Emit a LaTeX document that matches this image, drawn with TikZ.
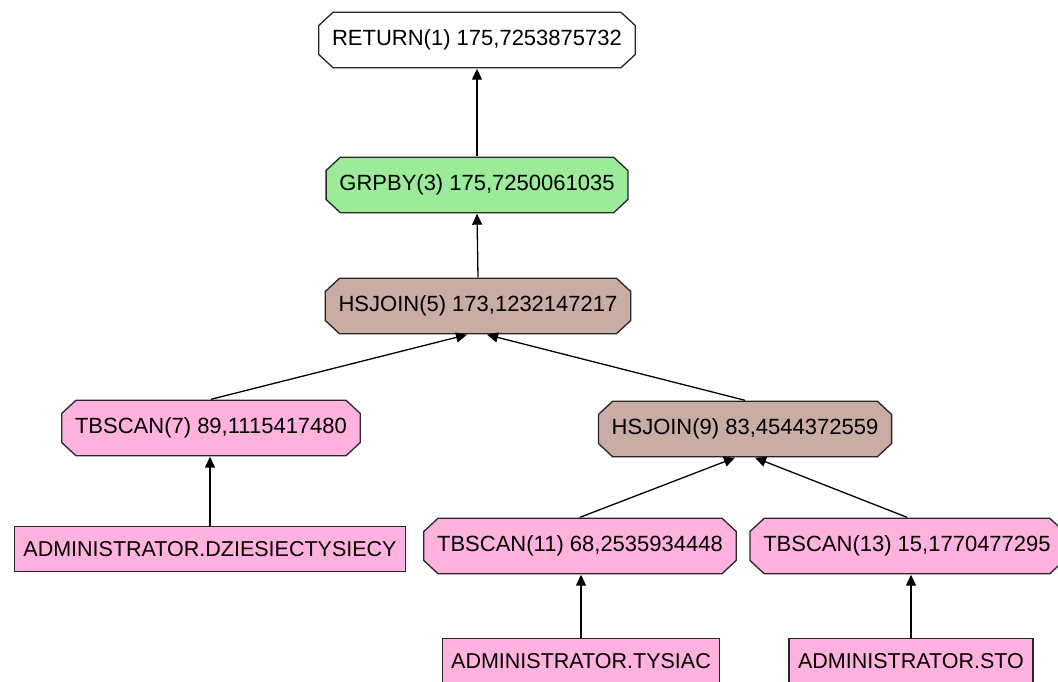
\documentclass[tikz,border=0pt]{standalone}
\usepackage{fontspec}
\setmainfont{Liberation Sans}
\usetikzlibrary{arrows.meta}

\definecolor{grpgreen}{RGB}{155,235,155}
\definecolor{joinbrown}{RGB}{201,172,164}
\definecolor{scanpink}{RGB}{255,178,222}

\tikzset{
  op/.style={rectangle, inner xsep=14pt, minimum height=57pt,
    font=\fontsize{22}{24}\selectfont,
    path picture={
      \draw[fill=#1, draw=black!85, line width=1.3pt]
        ([xshift=15pt,yshift=-0.7pt]path picture bounding box.north west)
        -- ([xshift=-15pt,yshift=-0.7pt]path picture bounding box.north east)
        -- ([xshift=-0.7pt,yshift=-14pt]path picture bounding box.north east)
        -- ([xshift=-0.7pt,yshift=14pt]path picture bounding box.south east)
        -- ([xshift=-15pt,yshift=0.7pt]path picture bounding box.south east)
        -- ([xshift=15pt,yshift=0.7pt]path picture bounding box.south west)
        -- ([xshift=0.7pt,yshift=14pt]path picture bounding box.south west)
        -- ([xshift=0.7pt,yshift=-14pt]path picture bounding box.north west)
        -- cycle;
    }},
  tbl/.style={rectangle, draw=black!85, line width=1.3pt, fill=scanpink,
    inner xsep=9pt, minimum height=45pt,
    font=\fontsize{21.5}{24}\selectfont},
  flow/.style={-{Triangle[length=11pt,width=10pt]}, line width=1.3pt}
}

\begin{document}
\begin{tikzpicture}[x=1pt, y=-1pt]
  \useasboundingbox (0,0) rectangle (1058,682);
  % operators
  \node[op=white] (ret) at (477,40) {RETURN(1) 175,7253875732};
  \node[op=grpgreen] (grp) at (477,185) {GRPBY(3) 175,7250061035};
  \node[op=joinbrown] (hsj5) at (478,306) {HSJOIN(5) 173,1232147217};
  \node[op=scanpink] (tbs7) at (211,428) {TBSCAN(7) 89,1115417480};
  \node[op=joinbrown] (hsj9) at (745,429) {HSJOIN(9) 83,4544372559};
  \node[op=scanpink] (tbs11) at (580,546) {TBSCAN(11) 68,2535934448};
  \node[op=scanpink] (tbs13) at (907,546) {TBSCAN(13) 15,1770477295};
  % tables
  \node[tbl] (dzt) at (210,549) {ADMINISTRATOR.DZIESIECTYSIECY};
  \node[tbl] (tys) at (581,661) {ADMINISTRATOR.TYSIAC};
  \node[tbl] (sto) at (911,661) {ADMINISTRATOR.STO};
  % edges
  \draw[flow] (grp.north) -- (ret.south);
  \draw[flow] (hsj5.north) -- (grp.south);
  \draw[flow] (tbs7.north) -- ([xshift=-11pt]hsj5.south);
  \draw[flow] (hsj9.north) -- ([xshift=9pt]hsj5.south);
  \draw[flow] (dzt.north) -- (dzt.north |- tbs7.south);
  \draw[flow] (tbs11.north) -- ([xshift=-10pt]hsj9.south);
  \draw[flow] (tbs13.north) -- ([xshift=10pt]hsj9.south);
  \draw[flow] (tys.north) -- (tys.north |- tbs11.south);
  \draw[flow] (sto.north) -- (sto.north |- tbs13.south);
\end{tikzpicture}
\end{document}
